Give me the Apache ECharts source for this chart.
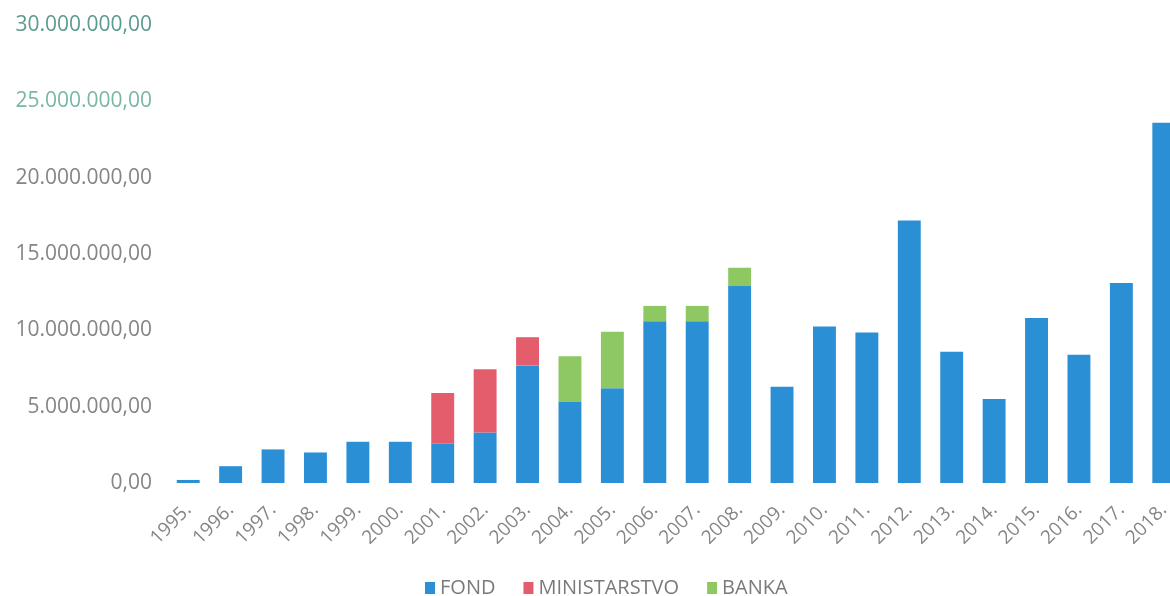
<!DOCTYPE html>
<html>
<head>
<meta charset="utf-8">
<script src="https://cdn.jsdelivr.net/npm/echarts@6/dist/echarts.min.js"></script>
<style>html,body{margin:0;padding:0;background:#fff}#c{width:1170px;height:596px}</style>
</head>
<body>
<div id="c"></div>
<script>
const years = ['1995.','1996.','1997.','1998.','1999.','2000.','2001.','2002.','2003.','2004.','2005.','2006.','2007.','2008.','2009.','2010.','2011.','2012.','2013.','2014.','2015.','2016.','2017.','2018.'];
const fond = [200000,1100000,2200000,2000000,2700000,2700000,2600000,3300000,7700000,5300000,6200000,10600000,10600000,12900000,6300000,10250000,9850000,17200000,8600000,5500000,10800000,8400000,13100000,23600000];
const ministarstvo = [0,0,0,0,0,0,3300000,4150000,1850000,0,0,0,0,0,0,0,0,0,0,0,0,0,0,0];
const banka = [0,0,0,0,0,0,0,0,0,3000000,3700000,1000000,1000000,1200000,0,0,0,0,0,0,0,0,0,0];
const seriesNames = ['FOND','MINISTARSTVO','BANKA'];

function fmt(v){
  const s = Math.round(v).toString().replace(/\B(?=(\d{3})+(?!\d))/g,'.');
  return s + ',00';
}
const chart = echarts.init(document.getElementById('c'));
const font = '"Open Sans", "Noto Sans", sans-serif';
const colors = ['#2b8fd6','#e35d6d','#8dc863'];
function mk(name, data, i){
  return {name:name, type:'bar', stack:'t', data:data.map(v=>v===0?null:v), barWidth:'54%',
    itemStyle:{color:colors[i]}};
}
chart.setOption({
  animation:false,
  grid:{left:167,width:1018,top:25,bottom:113,outerBoundsMode:'none',containLabel:false},
  legend:{data:seriesNames, left:420, top:573, icon:'rect', itemWidth:10, itemHeight:12, itemGap:28, itemStyle:{},
    textStyle:{fontFamily:font,fontSize:20,color:'#7a7a7a'}},
  xAxis:{type:'category', data:years,
    axisLine:{show:false}, axisTick:{show:false},
    axisLabel:{rotate:45, interval:0, margin:24, fontFamily:font, fontSize:19, color:'#858585'}},
  yAxis:{type:'value', min:0, max:30000000, interval:5000000,
    splitLine:{show:false}, axisLine:{show:false}, axisTick:{show:false},
    axisLabel:{margin:15, fontFamily:font, fontSize:21,
      color:function(v){ return v>=30000000?'#5b9a8f':(v>=25000000?'#78b6a6':'#858585'); },
      formatter:fmt}},
  series:[mk('FOND',fond,0),mk('MINISTARSTVO',ministarstvo,1),mk('BANKA',banka,2)]
});
</script>
</body>
</html>
